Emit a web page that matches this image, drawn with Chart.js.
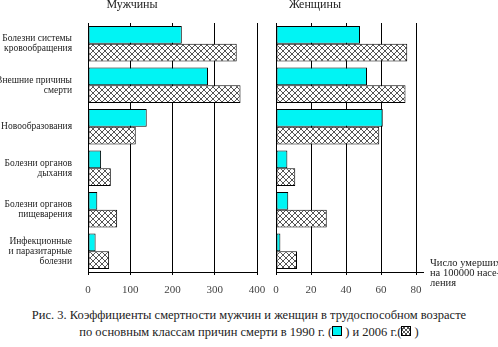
<!DOCTYPE html>
<html>
<head>
<meta charset="utf-8">
<script src="https://cdn.jsdelivr.net/npm/chart.js@4.4.1/dist/chart.umd.min.js"></script>
<style>
  body { margin: 0; background: #fff; width: 498px; height: 347px; position: relative; overflow: hidden; color: #222; }
  .txt { position: absolute; white-space: nowrap; font-family: 'Liberation Serif', 'Times New Roman', serif; }
  canvas { position: absolute; top: 0; }
  .head { font-size: 12px; top: -3px; transform: translateX(-50%); }
  .note { font-size: 10.5px; line-height: 10px; left: 430px; top: 258px; }
  .caption { font-size: 12.5px; line-height: 17px; left: 0; width: 498px; top: 307px; text-align: center; }
  .box { display: inline-block; width: 8px; height: 8px; border: 1px solid #000; vertical-align: 0px; }
  .cyan { background: #00f4f4; }
  .hatch { background:
      repeating-linear-gradient(45deg, #555 0 1px, transparent 1px 3px),
      repeating-linear-gradient(-45deg, #555 0 1px, #fff 1px 3px); }
</style>
</head>
<body>
<canvas id="men" width="272" height="300" style="left:0"></canvas>
<canvas id="women" width="236" height="300" style="left:262px"></canvas>
<div class="txt head" style="left:132px">Мужчины</div>
<div class="txt head" style="left:315px">Женщины</div>
<div class="txt note">Число умерших<br>на 100000 насе-<br>ления</div>
<div class="txt caption">Рис. 3. Коэффициенты смертности мужчин и женщин в трудоспособном возрасте<br>по основным классам причин смерти в 1990 г. (<span class="box cyan"></span> ) и 2006 г.(<span class="box hatch"></span> )</div>
<script>
const causes = [
  ['Болезни системы', 'кровообращения'],
  ['Внешние причины', 'смерти'],
  'Новообразования',
  ['Болезни органов', 'дыхания'],
  ['Болезни органов', 'пищеварения'],
  ['Инфекционные', 'и паразитарные', 'болезни']
];
const men1990 = [222, 284, 139, 31, 22, 18];
const men2006 = [352, 361, 113, 54, 69, 50];
const women1990 = [48, 52, 61, 6.5, 7, 2.5];
const women2006 = [75, 74, 59, 11, 29, 12];

// cross-hatch fill for the 2006 bars
function makeHatch() {
  const c = document.createElement('canvas');
  c.width = 6; c.height = 6;
  const g = c.getContext('2d');
  g.fillStyle = '#fff';
  g.fillRect(0, 0, 6, 6);
  g.strokeStyle = '#555';
  g.lineWidth = 1;
  g.beginPath();
  g.moveTo(0, 0); g.lineTo(6, 6);
  g.moveTo(6, 0); g.lineTo(0, 6);
  g.stroke();
  return g.createPattern(c, 'repeat');
}
const hatch = makeHatch();

const serif = "'Liberation Serif', 'Times New Roman', serif";
Chart.defaults.font.family = serif;
Chart.defaults.color = '#222';

function datasets(a, b) {
  return [
    { label: '1990', data: a, backgroundColor: '#00f4f4', borderColor: '#000', borderWidth: 1, borderSkipped: false },
    { label: '2006', data: b, backgroundColor: hatch, borderColor: '#000', borderWidth: 1, borderSkipped: false }
  ];
}

function options(max, step, yWidth, padRight, showLabels) {
  return {
    responsive: false,
    animation: false,
    indexAxis: 'y',
    layout: { padding: { top: 23, right: padRight, left: 0, bottom: 0 } },
    datasets: { bar: { categoryPercentage: 0.86, barPercentage: 1 } },
    plugins: { legend: { display: false }, tooltip: { enabled: false } },
    scales: {
      x: {
        min: 0, max: max,
        afterFit(scale) {
          scale.height = 28;
          scale.paddingLeft = 0;
          scale.paddingRight = 0;
        },
        ticks: { stepSize: step, padding: 9, color: '#444', font: { family: serif, size: 11 } },
        grid: { color: '#000', lineWidth: 1, tickLength: 3 },
        border: { display: true, color: '#000' }
      },
      y: {
        afterFit(scale) { scale.width = yWidth; },
        grid: { display: false },
        border: { display: true, color: '#000' },
        ticks: { display: showLabels, padding: 8, color: '#222', font: { family: serif, size: 9.5, lineHeight: 1.05 } }
      }
    }
  };
}

// the women's x axis runs a little past its last grid line
const axisTail = {
  id: 'axisTail',
  afterDraw(chart) {
    const { ctx, chartArea: { right, bottom } } = chart;
    ctx.save();
    ctx.strokeStyle = '#000';
    ctx.lineWidth = 1;
    ctx.beginPath();
    ctx.moveTo(right, bottom + 0.5);
    ctx.lineTo(right + 8, bottom + 0.5);
    ctx.stroke();
    ctx.restore();
  }
};

new Chart(document.getElementById('men'), {
  type: 'bar',
  data: { labels: causes, datasets: datasets(men1990, men2006) },
  options: options(400, 100, 88, 15, true)
});

new Chart(document.getElementById('women'), {
  type: 'bar',
  data: { labels: causes, datasets: datasets(women1990, women2006) },
  options: options(80, 20, 14, 82, false),
  plugins: [axisTail]
});
</script>
</body>
</html>
